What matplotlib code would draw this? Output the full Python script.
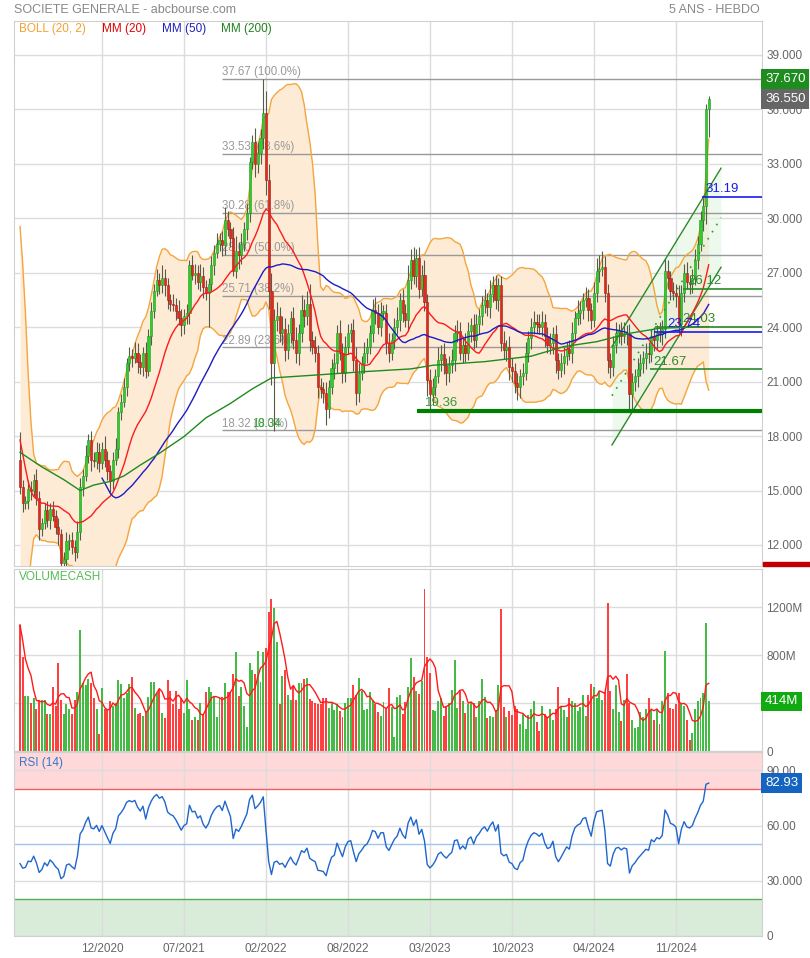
import numpy as np
import pandas as pd
import matplotlib
matplotlib.use("Agg")
import matplotlib.pyplot as plt
from matplotlib.patches import Rectangle

plt.rcParams['font.family'] = ['Liberation Sans', 'DejaVu Sans']

# weekly closes before the visible window (used for the indicators only)
prehist = [29.9, 30.3, 29.6, 25.3, 21.6, 17.4, 15.6, 15.1, 13.9, 15.5,
           15.0, 13.6, 13.2, 12.8, 12.9, 13.6, 14.1, 14.4, 16.7]

# weekly closes
closes = [
    15.2, 14.3, 14.4, 15.1, 15.0, 15.6, 14.6, 12.9, 13.2, 13.9,
    13.4, 14.0, 13.6, 13.0, 12.6, 11.0, 11.2, 12.2, 12.3, 11.9,
    11.6, 12.7, 15.2, 15.8, 16.9, 17.8, 16.7, 16.6, 17.1, 16.5,
    17.3, 16.7, 16.1, 15.5, 16.7, 17.3, 19.3, 19.9, 20.7, 22.0,
    22.4, 22.3, 22.6, 22.1, 21.8, 22.6, 21.6, 23.5, 24.9, 26.0,
    26.6, 26.3, 26.7, 26.3, 25.5, 25.3, 25.2, 24.9, 24.5, 24.1,
    24.6, 24.8, 27.4, 26.9, 27.0, 26.5, 26.8, 26.2, 25.9, 26.4,
    27.4, 28.1, 28.6, 28.8, 28.5, 29.9, 29.4, 28.9, 27.1, 28.2,
    28.0, 28.6, 29.4, 30.3, 33.1, 34.2, 33.0, 33.6, 34.4, 35.8,
    32.1, 26.0, 22.0, 24.4, 24.6, 23.7, 23.9, 22.75, 23.7, 24.5,
    23.3, 22.6, 23.7, 24.95, 24.6, 25.3, 23.3, 22.9, 22.6, 20.7,
    20.6, 20.4, 19.5, 20.7, 21.75, 22.0, 23.7, 22.6, 21.5, 22.9,
    23.7, 23.85, 22.2, 20.4, 21.5, 22.0, 22.6, 22.9, 23.7, 24.95,
    24.8, 24.0, 24.8, 24.8, 23.1, 22.6, 23.3, 24.0, 24.4, 25.5,
    24.8, 24.4, 26.6, 27.7, 26.8, 27.8, 26.1, 26.9, 25.4, 21.1,
    20.3, 20.7, 21.3, 22.2, 22.5, 21.9, 21.5, 21.9, 22.2, 23.7,
    23.8, 22.6, 23.0, 22.6, 23.8, 24.1, 23.3, 24.2, 24.6, 25.2,
    25.5, 25.1, 25.8, 26.3, 25.5, 26.3, 23.1, 22.75, 22.9, 21.8,
    21.6, 20.9, 20.7, 21.3, 21.5, 22.6, 23.4, 24.0, 24.3, 24.2,
    24.0, 24.3, 23.5, 23.0, 23.1, 23.6, 22.2, 21.65, 22.0, 22.4,
    22.8, 22.6, 23.7, 24.5, 24.8, 24.95, 25.5, 25.6, 24.95, 24.4,
    25.9, 27.1, 27.2, 27.3, 25.9, 22.2, 21.8, 23.0, 23.7, 23.8,
    23.5, 23.7, 23.6, 20.3, 21.0, 21.3, 21.7, 22.0, 22.3, 22.6,
    22.5, 23.5, 23.3, 23.7, 23.6, 23.9, 27.1, 26.7, 26.0, 25.9,
    25.7, 24.2, 25.9, 27.0, 26.5, 26.4, 26.7, 27.7, 28.6, 29.9,
    30.7, 36.0, 36.55,
]

# upper / lower shadows in tenths of a euro
wick_up = [
    15, 4, 3, 5, 4, 3, 6, 4, 3, 4,
    5, 3, 4, 3, 5, 3, 4, 5, 3, 4,
    4, 6, 5, 4, 6, 3, 5, 4, 6, 5,
    4, 7, 5, 3, 4, 6, 3, 4, 5, 3,
    5, 4, 6, 5, 4, 3, 6, 4, 5, 4,
    6, 4, 7, 5, 4, 3, 5, 4, 6, 5,
    4, 5, 3, 6, 5, 4, 7, 5, 4, 3,
    5, 4, 6, 4, 5, 7, 5, 4, 6, 8,
    5, 6, 4, 5, 3, 4, 8, 6, 5, 19,
    12, 9, 10, 6, 8, 5, 7, 6, 5, 4,
    6, 7, 5, 8, 6, 7, 11, 5, 6, 4,
    5, 4, 6, 4, 5, 6, 4, 7, 5, 6,
    5, 4, 6, 7, 5, 4, 6, 5, 4, 6,
    7, 5, 6, 4, 5, 6, 4, 5, 7, 4,
    6, 5, 8, 6, 7, 5, 6, 5, 8, 4,
    6, 5, 4, 7, 5, 6, 4, 5, 6, 4,
    6, 5, 4, 7, 5, 4, 6, 5, 4, 5,
    6, 4, 8, 5, 6, 4, 5, 7, 4, 6,
    5, 4, 6, 4, 5, 6, 4, 5, 6, 4,
    5, 6, 4, 5, 6, 4, 5, 4, 6, 5,
    4, 5, 6, 4, 7, 5, 4, 6, 5, 4,
    6, 7, 8, 9, 6, 5, 4, 5, 6, 4,
    5, 6, 4, 6, 5, 4, 6, 5, 4, 5,
    6, 4, 5, 4, 6, 5, 7, 6, 4, 5,
    5, 6, 4, 5, 6, 4, 5, 6, 4, 5,
    4, 3, 2,
]
wick_dn = [
    4, 5, 3, 4, 5, 3, 4, 6, 4, 3,
    4, 5, 3, 4, 6, 5, 3, 4, 5, 4,
    5, 3, 4, 5, 3, 4, 6, 3, 4, 5,
    3, 4, 5, 6, 4, 3, 5, 4, 3, 5,
    4, 5, 3, 6, 4, 5, 4, 3, 5, 4,
    3, 5, 4, 6, 5, 4, 3, 5, 4, 6,
    5, 4, 6, 3, 5, 4, 5, 6, 4, 19,
    4, 5, 3, 4, 6, 5, 4, 5, 3, 4,
    8, 5, 4, 6, 5, 4, 7, 5, 6, 6,
    8, 10, 12, 37, 6, 5, 7, 6, 5, 6,
    5, 6, 7, 5, 6, 5, 6, 4, 5, 6,
    5, 6, 9, 5, 4, 6, 5, 4, 6, 5,
    4, 5, 6, 7, 5, 4, 5, 6, 4, 5,
    6, 4, 5, 4, 6, 5, 4, 5, 4, 6,
    5, 4, 6, 5, 4, 6, 5, 4, 5, 9,
    9, 6, 5, 4, 6, 5, 7, 5, 4, 6,
    5, 4, 6, 5, 4, 6, 5, 4, 6, 5,
    4, 5, 6, 4, 5, 6, 4, 5, 6, 7,
    6, 5, 7, 6, 5, 4, 5, 6, 4, 5,
    4, 5, 6, 4, 5, 6, 7, 5, 4, 6,
    5, 4, 6, 5, 4, 6, 5, 4, 6, 5,
    4, 5, 6, 4, 5, 7, 6, 5, 4, 6,
    5, 4, 6, 8, 9, 5, 6, 4, 5, 6,
    5, 4, 6, 5, 4, 6, 5, 6, 5, 4,
    6, 5, 7, 5, 4, 6, 5, 4, 5, 4,
    6, 10, 15,
]

# weekly traded amount, millions of euros
volumes = [
    1054, 788, 458, 458, 402, 439, 355, 430, 425, 430,
    307, 307, 537, 374, 738, 430, 313, 391, 355, 307,
    430, 495, 1012, 565, 551, 598, 570, 447, 349, 140,
    523, 355, 341, 416, 377, 397, 593, 556, 444, 481,
    560, 620, 361, 313, 321, 291, 327, 453, 579, 579,
    481, 514, 319, 277, 593, 500, 391, 500, 349, 444,
    319, 593, 350, 263, 285, 257, 397, 299, 495, 531,
    495, 458, 285, 453, 453, 565, 495, 489, 643, 827,
    458, 537, 377, 201, 732, 676, 643, 838, 579, 827,
    864, 1165, 1269, 1199, 914, 391, 626, 676, 467, 425,
    545, 425, 565, 565, 601, 607, 433, 419, 397, 391,
    391, 439, 447, 363, 397, 341, 391, 335, 285, 402,
    439, 447, 551, 467, 607, 503, 341, 347, 495, 425,
    391, 327, 291, 411, 349, 523, 369, 117, 453, 467,
    313, 411, 537, 780, 620, 500, 475, 584, 1353, 788,
    648, 341, 333, 419, 439, 291, 377, 397, 509, 760,
    361, 509, 420, 321, 389, 411, 405, 285, 416, 601,
    453, 277, 293, 285, 341, 551, 1185, 369, 280, 335,
    305, 374, 355, 229, 307, 187, 299, 355, 416, 243,
    168, 374, 307, 285, 349, 263, 349, 537, 369, 341,
    285, 444, 416, 397, 333, 369, 467, 291, 467, 559,
    537, 447, 500, 425, 489, 1235, 500, 349, 551, 327,
    249, 425, 643, 405, 263, 196, 201, 327, 285, 355,
    439, 341, 263, 355, 224, 416, 836, 481, 361, 349,
    391, 481, 391, 377, 263, 95, 154, 349, 419, 439,
    486, 1068, 414,
]

# MM(200) (bar index, value)
mm200_idx = [0, 8, 16, 22, 27, 33, 38, 44, 51, 60, 68, 77, 85, 92,
             109, 126, 143, 151, 170, 187, 199, 211, 223, 234, 252]
mm200_val = [17.1, 16.3, 15.6, 15.0, 15.3, 15.5, 15.8, 16.4, 17.05, 17.97,
             19.0, 19.8, 20.6, 21.2, 21.37, 21.55, 21.7, 21.9, 22.1, 22.4,
             22.93, 23.2, 23.66, 23.94, 24.03]

date_pos = [30, 60, 90, 120, 150, 180, 210, 240]
date_labels = ['12/2020', '07/2021', '02/2022', '08/2022',
               '03/2023', '10/2023', '04/2024', '11/2024']

fib_levels = [37.67, 33.53, 30.28, 28.00, 25.71, 22.89, 18.32]
fib_pcts = ['100.0%', '78.6%', '61.8%', '50.0%', '38.2%', '23.6%', '0.0%']
fib_start = 74

# trend channel end points (bar index, price)
chan_x = [216.6, 256.5]
chan_up = [22.93, 32.76]
chan_lo = [17.51, 27.3]

# horizontal marks: value, start bar, colour, label bar
marks = [(31.19, 249.5, '#1a1aee', 250.8),
         (26.12, 242.6, '#2a8a2a', 244.4),
         (24.03, 232.5, '#2a8a2a', 242.4),
         (23.74, 232.0, '#1a1aee', 237.0),
         (21.67, 230.5, '#2a8a2a', 231.8)]
support = 19.36
support_start = 145.3

# ---------------------------------------------------------------------------
n = len(closes)
x = np.arange(n)
npre = len(prehist)
c = np.array(closes)
o = np.r_[prehist[-1], c[:-1]]
hi = np.maximum(o, c) + np.array(wick_up) / 10
lo = np.minimum(o, c) - np.array(wick_dn) / 10
up = c >= o

full = pd.Series(prehist + closes)
mm20 = full.rolling(20).mean().values[npre:]
sd20 = full.rolling(20).std(ddof=0).values[npre:]
mm50 = full.rolling(50).mean().values[npre:]
boll_hi = mm20 + 2 * sd20
boll_lo = mm20 - 2 * sd20

delta = full.diff()
gain = delta.clip(lower=0).ewm(alpha=1 / 14, adjust=False).mean()
loss = (-delta.clip(upper=0)).ewm(alpha=1 / 14, adjust=False).mean()
rsi = (100 - 100 / (1 + gain / loss)).values[npre:]

vol = np.array(volumes, dtype=float)
vol_ma = pd.Series(vol).rolling(5, min_periods=1).mean().values

W, H = 810, 958
fig = plt.figure(figsize=(W / 100, H / 100), dpi=100)
L, R = 14 / W, 762 / W


def box(top, bottom):
    return [L, 1 - bottom / H, R - L, (bottom - top) / H]


def ftext(px, py, s, **kw):
    fig.text(px / W, 1 - py / H, s, va='center', **kw)


ax1 = fig.add_axes(box(21, 566))
ax2 = fig.add_axes(box(569, 751))
ax3 = fig.add_axes(box(752, 936))

GRID = '#dcdcdc'
for ax in (ax1, ax2, ax3):
    ax.set_xlim(-2.2, 271.5)
    ax.set_xticks(date_pos)
    ax.set_axisbelow(True)
    ax.grid(True, color=GRID, lw=1)
    ax.yaxis.tick_right()
    ax.tick_params(length=0, labelsize=8.5, labelcolor='#666666', pad=3)
    for s in ax.spines.values():
        s.set_color('#d0d0d0')
ax1.tick_params(axis='x', labelbottom=False)
ax2.tick_params(axis='x', labelbottom=False)
ax3.set_xticklabels(date_labels)
ax3.tick_params(axis='x', pad=5)

# ---- price panel ----
ax1.set_ylim(10.84, 40.87)
ticks = np.arange(12, 40, 3)
ax1.set_yticks(ticks)
ax1.set_yticklabels([f'{t:.3f}' for t in ticks])

ax1.fill_between(x, boll_lo, boll_hi, color='#fdebd6', lw=0, zorder=1)
ax1.plot(x, boll_hi, color='#f5a53c', lw=1, zorder=2)
ax1.plot(x, boll_lo, color='#f5a53c', lw=1, zorder=2)

for lvl, pct in zip(fib_levels, fib_pcts):
    ax1.hlines(lvl, fib_start, 271.5, color='#999999', lw=1, zorder=1.5)
    ax1.text(fib_start, lvl + 0.04, f'{lvl:.2f} ({pct})', color='#999999',
             fontsize=8.3, va='bottom', zorder=1.6)
ax1.text(84.8, fib_levels[-1] + 0.04, '18.34', color='#33aa33',
         fontsize=8.3, va='bottom', zorder=1.7)

ax1.fill_between(chan_x, chan_lo, chan_up, color='#dff5df', alpha=0.55,
                 lw=0, zorder=1.2)
ax1.plot(chan_x, chan_up, color='#2a8a2a', lw=1, zorder=4)
ax1.plot(chan_x, chan_lo, color='#2a8a2a', lw=1, zorder=4)
ax1.plot(chan_x, [(a + b) / 2 for a, b in zip(chan_up, chan_lo)],
         color='#2a9a2a', lw=1.2, ls=(0, (1, 4)), zorder=4)

ax1.hlines(support, support_start, 271.5, color='#008000', lw=3, zorder=4)
ax1.text(148.0, support + 0.12, f'{support:.2f}', color='#33993a',
         fontsize=9.5, va='bottom', zorder=5)

ax1.vlines(x, lo, hi, color='#5a5a48', lw=0.8, zorder=3)
body = np.maximum(np.abs(c - o), 0.07)
ax1.bar(x, body, bottom=np.minimum(o, c), width=0.78,
        color=np.where(up, '#2ecc2e', '#e02a1c'),
        edgecolor=np.where(up, '#1f9a1f', '#a81a10'), lw=0.4, zorder=3.2)

ax1.plot(x, mm20, color='#ff1a1a', lw=1, zorder=4)
ax1.plot(x, mm50, color='#1c1cc0', lw=1, zorder=4)
ax1.plot(mm200_idx, mm200_val, color='#1f8a1f', lw=1, zorder=4)

for val, start, col, lab in marks:
    ax1.hlines(val, start, 271.5, color=col, lw=1.2, zorder=4.5)
    ax1.text(lab, val + 0.1, f'{val:.2f}', color=col, fontsize=9.5,
             va='bottom', zorder=5)

ytr1 = ax1.get_yaxis_transform()
ax1.text(1.004, 37.67, '37.670', transform=ytr1, color='white', fontsize=9.5,
         va='center', clip_on=False, zorder=6,
         bbox=dict(boxstyle='square,pad=0.3', fc='#1e8c1e', ec='none'))
ax1.text(1.004, 36.55, '36.550', transform=ytr1, color='white', fontsize=9.5,
         va='center', clip_on=False, zorder=6,
         bbox=dict(boxstyle='square,pad=0.3', fc='#666666', ec='none'))
fig.add_artist(Rectangle((763 / W, 1 - 566 / H), 47 / W, 4 / H,
                         color='#c00000', transform=fig.transFigure))

# ---- volume panel ----
ax2.set_ylim(0, 1521)
ax2.set_yticks([0, 400, 800, 1200])
ax2.set_yticklabels(['0', '400M', '800M', '1200M'])
ax2.bar(x, vol, width=0.72, color=np.where(up, '#44bb44', '#ff4040'),
        lw=0, zorder=2)
ax2.plot(x, vol_ma, color='#ff1a1a', lw=1, zorder=3)
ax2.text(1.004, vol[-1], f'{vol[-1]:.0f}M', transform=ax2.get_yaxis_transform(),
         color='white', fontsize=9.5, va='center', clip_on=False, zorder=6,
         bbox=dict(boxstyle='square,pad=0.3', fc='#11aa11', ec='none'))

# ---- RSI panel ----
ax3.set_ylim(0, 100)
ax3.set_yticks([0, 30, 60, 90])
ax3.set_yticklabels(['0', '30.000', '60.00', '90.00'])
ax3.axhspan(80, 100, color='#ffd9d9', lw=0, zorder=0.2)
ax3.axhspan(0, 20, color='#d9ecd9', lw=0, zorder=0.2)
ax3.axhline(80, color='#f06060', lw=1, zorder=1)
ax3.axhline(50, color='#9fc4ef', lw=1, zorder=1)
ax3.axhline(20, color='#55aa55', lw=1, zorder=1)
ax3.plot(x, rsi, color='#1f66cc', lw=1, zorder=3)
ax3.text(1.004, 82.93, '82.93', transform=ax3.get_yaxis_transform(),
         color='white', fontsize=9.5, va='center', clip_on=False, zorder=6,
         bbox=dict(boxstyle='square,pad=0.3', fc='#1565c0', ec='none'))

# ---- texts ----
ftext(14, 10, 'SOCIETE GENERALE - abcbourse.com', color='#888888', fontsize=9)
ftext(760, 10, '5 ANS - HEBDO', color='#888888', fontsize=9, ha='right')
ftext(19, 29, 'BOLL (20, 2)', color='#f5a030', fontsize=8.5)
ftext(102, 29, 'MM (20)', color='#e00000', fontsize=8.5)
ftext(162, 29, 'MM (50)', color='#2020c0', fontsize=8.5)
ftext(221, 29, 'MM (200)', color='#208020', fontsize=8.5)
ftext(19, 577, 'VOLUMECASH', color='#55bb55', fontsize=8.5)
ftext(19, 763, 'RSI (14)', color='#3377cc', fontsize=8.5)

fig.savefig('out.png', dpi=100)
